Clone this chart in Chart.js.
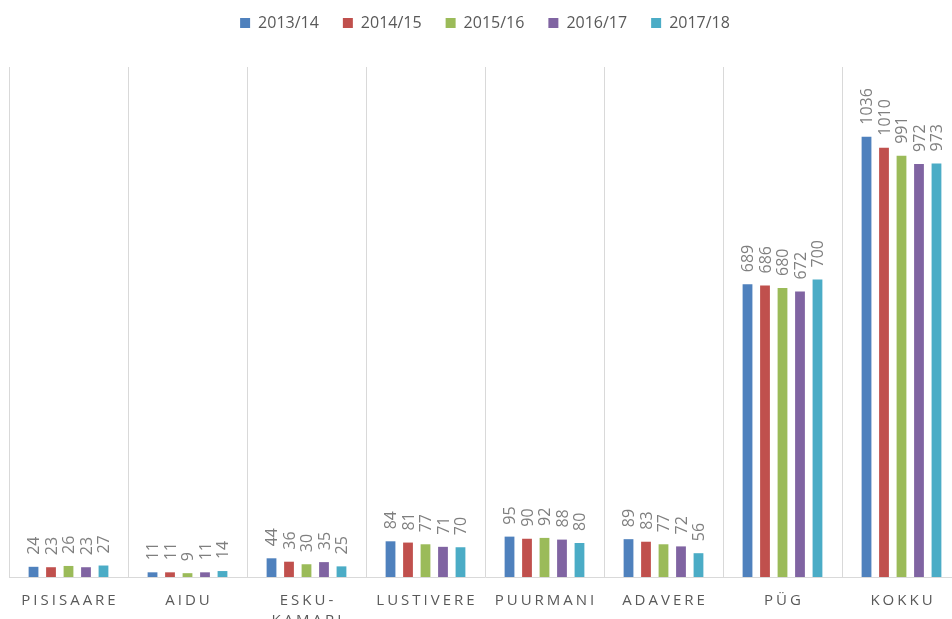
<!DOCTYPE html>
<html>
<head>
<meta charset="utf-8">
<script src="https://cdn.jsdelivr.net/npm/chart.js@4"></script>
<style>
  html, body { margin: 0; padding: 0; background: #fff; overflow: hidden; }
  #wrap { width: 971px; height: 619px; }
</style>
</head>
<body>
<div id="wrap"><canvas id="chart"></canvas></div>
<script>
// categories and series
const kohad = ['PISISAARE', 'AIDU', ['ESKU-', 'KAMARI'], 'LUSTIVERE', 'PUURMANI', 'ADAVERE', 'PÜG', 'KOKKU'];
const aastad = ['2013/14', '2014/15', '2015/16', '2016/17', '2017/18'];

const v2013 = [24, 11, 44, 84, 95, 89, 689, 1036];
const v2014 = [23, 11, 36, 81, 90, 83, 686, 1010];
const v2015 = [26, 9, 30, 77, 92, 77, 680, 991];
const v2016 = [23, 11, 35, 71, 88, 72, 672, 972];
const v2017 = [27, 14, 25, 70, 80, 56, 700, 973];

const varvid = ['#4F81BD', '#C0504D', '#9BBB59', '#8064A2', '#4BACC6'];
const seeria = [v2013, v2014, v2015, v2016, v2017];

// legend jaoks rohkem ruumi
const legendMargin = {
    id: 'legendMargin',
    beforeInit(chart) {
        const fit = chart.legend.fit;
        chart.legend.fit = function () {
            fit.bind(chart.legend)();
            this.height = 76;
        };
    }
};

// numbrid tulpade kohal, püsti
const tulbaSildid = {
    id: 'tulbaSildid',
    afterDatasetsDraw(chart) {
        const ctx = chart.ctx;
        ctx.save();
        ctx.font = '16px "Open Sans"';
        ctx.fillStyle = '#7f7f7f';
        ctx.textAlign = 'left';
        ctx.textBaseline = 'middle';
        chart.data.datasets.forEach((ds, i) => {
            chart.getDatasetMeta(i).data.forEach((bar, j) => {
                ctx.save();
                ctx.translate(bar.x, bar.y - 12);
                ctx.rotate(-Math.PI / 2);
                ctx.fillText(String(ds.data[j]), 0, 1);
                ctx.restore();
            });
        });
        ctx.restore();
    }
};

// x-telje sildid hõreda kirjaga
const xSildid = {
    id: 'xSildid',
    afterDraw(chart) {
        const ctx = chart.ctx;
        const x = chart.scales.x;
        const vahe = 3;
        ctx.save();
        ctx.font = '15px "Open Sans"';
        ctx.letterSpacing = vahe + 'px';
        ctx.fillStyle = '#595959';
        ctx.textAlign = 'center';
        ctx.textBaseline = 'middle';
        kohad.forEach((k, i) => {
            const read = Array.isArray(k) ? k : [k];
            const px = x.getPixelForValue(i) + vahe / 2;
            read.forEach((r, n) => {
                ctx.fillText(r, px, chart.chartArea.bottom + 24 + n * 20);
            });
        });
        ctx.restore();
    }
};

new Chart(document.getElementById('chart'), {
    type: 'bar',
    data: {
        labels: kohad,
        datasets: aastad.map((a, i) => ({
            label: a,
            data: seeria[i],
            backgroundColor: varvid[i],
            barPercentage: 0.56,
            categoryPercentage: 0.735
        }))
    },
    options: {
        responsive: true,
        maintainAspectRatio: false,
        animation: false,
        layout: { padding: { top: -9, left: 9, right: 10, bottom: 42 } },
        plugins: {
            legend: {
                position: 'top',
                labels: {
                    boxWidth: 10,
                    boxHeight: 10,
                    padding: 24,
                    color: '#595959',
                    font: { family: '"Open Sans"', size: 16 }
                }
            },
            tooltip: { enabled: false }
        },
        scales: {
            x: {
                grid: { display: true, color: '#d9d9d9', lineWidth: 1, drawTicks: false },
                border: { display: true, color: '#d9d9d9' },
                ticks: { display: false }
            },
            y: {
                display: false,
                min: 0,
                max: 1200
            }
        }
    },
    plugins: [legendMargin, tulbaSildid, xSildid]
});
</script>
</body>
</html>
